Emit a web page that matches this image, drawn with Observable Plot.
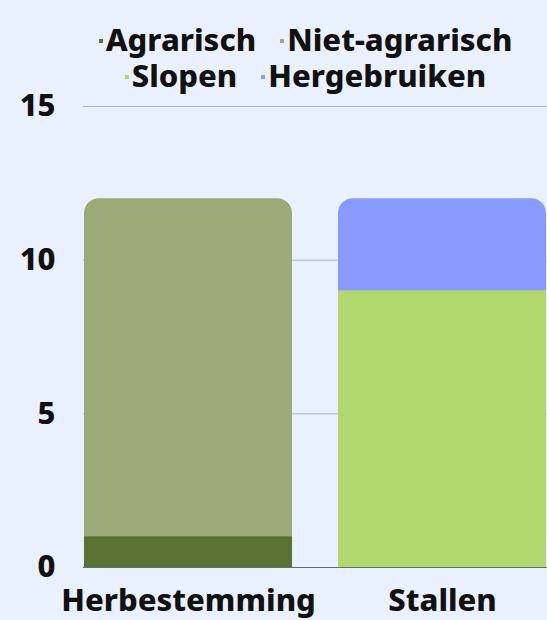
<!DOCTYPE html>
<html>
<head>
<meta charset="utf-8">
<script src="https://cdn.jsdelivr.net/npm/d3@7"></script>
<script src="https://cdn.jsdelivr.net/npm/@observablehq/plot@0.6"></script>
<style>
  html, body { margin: 0; padding: 0; background: #eaf1fe; }
  body { width: 547px; height: 620px; overflow: hidden; font-family: "Noto Sans", sans-serif; font-weight: 800; }
  #legend { box-sizing: border-box; width: 547px; height: 95px; padding: 21px 0 0 64px; display: flex; flex-wrap: wrap; justify-content: center; align-content: flex-start; column-gap: 24px; row-gap: 0; }
  .item { display: flex; align-items: center; font-size: 31px; line-height: 36px; color: #111; white-space: nowrap; }
  .sw { width: 4px; height: 4px; margin-right: 3px; margin-top: 3px; }
  svg { overflow: visible; display: block; }
</style>
</head>
<body>
<div id="legend"></div>
<div id="chart"></div>
<script>
const categories = ["Herbestemming", "Stallen"];
const seriesNames = ["Agrarisch", "Niet-agrarisch", "Slopen", "Hergebruiken"];
const seriesColors = ["#5b7332", "#9caa78", "#b0d86d", "#879bff"];
// lower segment and upper segment per category
const lowerSeries = ["Agrarisch", "Slopen"];
const lowerValues = [1, 9];
const upperSeries = ["Niet-agrarisch", "Hergebruiken"];
const upperValues = [11, 3];
const yTicks = [0, 5, 10, 15];
const gridTicks = [5, 10, 15];

const legend = document.getElementById("legend");
seriesNames.forEach((n, i) => {
  const it = document.createElement("div");
  it.className = "item";
  const sw = document.createElement("span");
  sw.className = "sw";
  sw.style.background = seriesColors[i];
  it.appendChild(sw);
  it.appendChild(document.createTextNode(n));
  legend.appendChild(it);
});

const lower = categories.map((c, i) => ({cat: c, series: lowerSeries[i], y1: 0, y2: lowerValues[i]}));
const upperFull = categories.map((c, i) => ({cat: c, series: upperSeries[i], y1: 0, y2: lowerValues[i] + upperValues[i]}));

const color = {domain: seriesNames, range: seriesColors};

const chart = Plot.plot({
  width: 547,
  height: 525,
  marginTop: 11,
  marginBottom: 53,
  marginLeft: 83,
  marginRight: 0,
  style: {background: "transparent", fontFamily: "Noto Sans, sans-serif", fontWeight: 800, fontSize: "31px", color: "#111", overflow: "visible"},
  x: {domain: categories, paddingInner: 0.18, paddingOuter: 0, label: null},
  y: {domain: [0, 15], label: null},
  color,
  marks: [
    Plot.gridY(gridTicks, {stroke: "#aab2c2", strokeOpacity: 1, strokeWidth: 1}),
    Plot.barY(upperFull, {x: "cat", y1: "y1", y2: "y2", fill: "series", rx: 15}),
    Plot.barY(lower, {x: "cat", y1: "y1", y2: "y2", fill: "series"}),
    Plot.ruleY([0], {stroke: "#666b75", strokeWidth: 1.2}),
    Plot.axisY(yTicks, {tickSize: 0, tickPadding: 28, fontSize: 31, fontWeight: 800, fill: "#111"}),
    Plot.axisX({tickSize: 0, tickPadding: 21, fontSize: 31, fontWeight: 800, fill: "#111"})
  ]
});
document.getElementById("chart").appendChild(chart);
</script>
</body>
</html>
